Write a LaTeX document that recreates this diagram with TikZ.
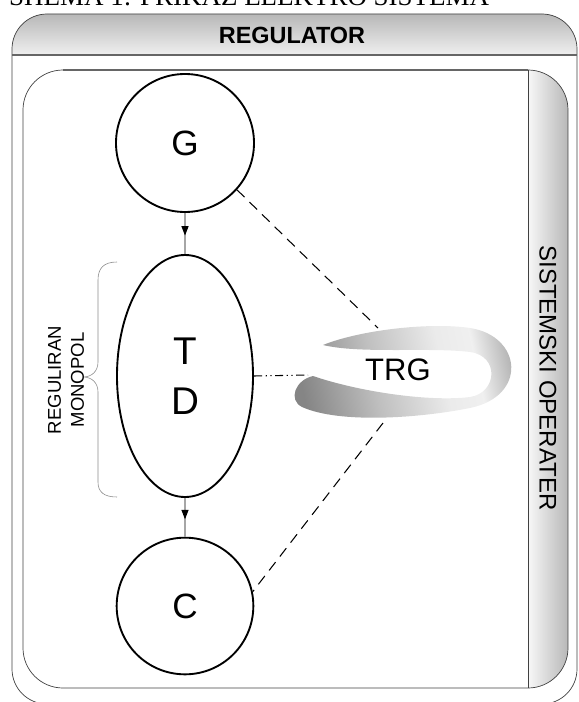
\documentclass[tikz,border=0pt]{standalone}
\usepackage{fontspec}
\setmainfont{Liberation Sans}
\newfontfamily\titlefont{Liberation Serif}
\usetikzlibrary{arrows.meta,shapes.geometric,decorations.markings}
\tikzset{>={Triangle[width=6pt,length=8pt]}}
\pgfdeclarehorizontalshading{swoosh}{100bp}{color(0bp)=(black!48); color(25bp)=(black!48);
  color(42bp)=(black!25); color(58bp)=(black!8); color(66bp)=(black!6); color(75bp)=(black!32); color(100bp)=(black!32)}

\begin{document}
\begin{tikzpicture}[x=0.03cm,y=-0.03cm,
    frame/.style={draw=black!75,line width=0.6pt},
    bubble/.style={draw,line width=1.6pt,inner sep=0pt,align=center},
    link/.style={draw=black!35,line width=0.9pt,postaction={decorate},
      decoration={markings,mark=at position 0.55 with {\arrow[black]{>}}}},
    relation/.style={line width=0.9pt,dash pattern=on 9pt off 6pt}]
    \useasboundingbox (0,0) rectangle (578,702);
    % title, cut at the top
    \node[anchor=base west,inner sep=0pt,font=\titlefont\fontsize{23}{27}\selectfont] (title) at (9,6) {SHEMA 1: PRIKAZ ELEKTRO SISTEMA};
    % regulator frame
    \begin{scope}
      \clip[rounded corners=1.05cm] (12,14) rectangle (577,704);
      \shade[top color=black!28,bottom color=black!6] (12,14) rectangle (577,55);
    \end{scope}
    \draw[frame,rounded corners=1.05cm] (12,14) rectangle (577,704);
    \draw[black!60,line width=1.2pt] (12,55) -- (577,55);
    \node[font=\bfseries\fontsize{20}{24}\selectfont] (regulator) at (292,35) {REGULATOR};
    % system operator frame
    \begin{scope}
      \clip[rounded corners=1.2cm] (23,70) rectangle (568,688);
      \shade[left color=black!3,right color=black!28] (528,70) rectangle (568,688);
    \end{scope}
    \draw[frame,rounded corners=1.2cm] (23,70) rectangle (568,688);
    \draw[black!60,line width=1.1pt] (63,70) -- (528,70);
    \draw[frame] (528,70) -- (528,688);
    \node[rotate=-90,font=\fontsize{20.5}{24}\selectfont] (operater) at (548,378) {SISTEMSKI OPERATER};
    % chain G - TD - C
    \node[bubble,circle,minimum size=4.14cm,font=\fontsize{30}{30}\selectfont] (g) at (185,143) {G};
    \node[bubble,ellipse,minimum width=4.08cm,minimum height=7.26cm,font=\fontsize{33}{42.7}\selectfont] (td) at (185,376) {T\\D};
    \node[bubble,circle,minimum size=4.1cm,font=\fontsize{30}{30}\selectfont] (c) at (185,606) {C};
    \draw[link] (g) -- (td);
    \draw[link] (td) -- (c);
    % brace
    \draw[black!45,line width=0.5pt] (117,262) .. controls (104,262) and (98,268) .. (98,280)
      -- (98,362) .. controls (98,371) and (92,377) .. (83,377)
      .. controls (92,377) and (98,383) .. (98,392) -- (98,482)
      .. controls (98,492) and (104,497) .. (117,497);
    \node[rotate=90,align=center,font=\fontsize{15.8}{19.6}\selectfont] (monopol) at (66,380) {REGULIRAN\\MONOPOL};
    % TRG
    \shade[shading=swoosh,shading angle=12] (323,345) .. controls (360,330) and (430,322) .. (470,328)
      .. controls (522,336) and (528,396) .. (470,408)
      .. controls (420,418) and (340,424) .. (302,407)
      .. controls (288,400) and (295,380) .. (313,376)
      .. controls (360,392) and (430,402) .. (470,397)
      .. controls (497,393) and (500,356) .. (470,352)
      .. controls (430,347) and (360,354) .. (323,345) -- cycle;
    \node[font=\fontsize{26.5}{30}\selectfont] (trg) at (398,370) {TRG};
    \coordinate (trg-n) at (378,328);
    \coordinate (trg-s) at (383,423);
    \coordinate (trg-w) at (308,375);
    \draw[relation] (g.-42) -- (trg-n);
    \draw[relation] (trg-s) -- (c.12);
    \draw[line width=0.9pt,dash pattern=on 7pt off 3pt on 1pt off 3pt on 1pt off 3pt] (td.east) -- (trg-w);
\end{tikzpicture}
\end{document}
